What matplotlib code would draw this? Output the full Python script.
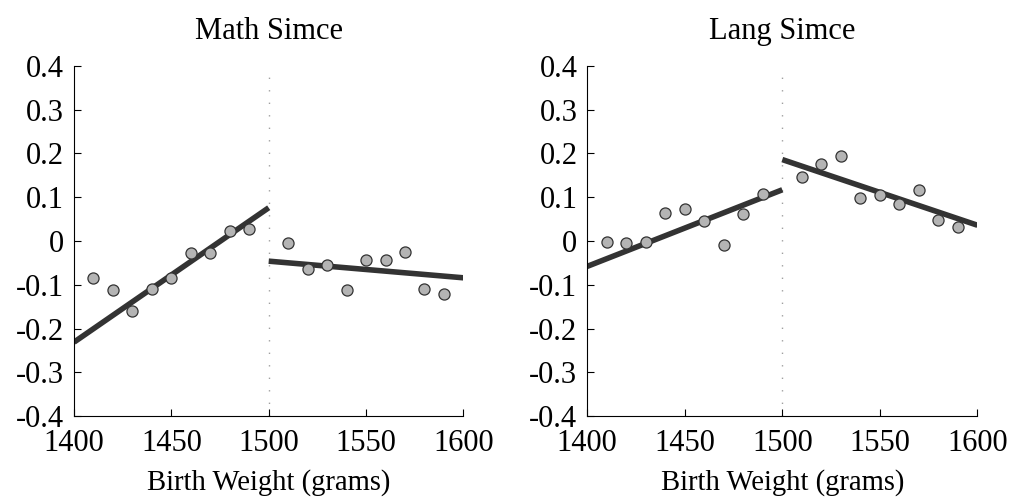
import numpy as np
import matplotlib
matplotlib.use('Agg')
import matplotlib.pyplot as plt

plt.rcParams['font.family'] = 'Liberation Serif'

# binned means, birth weight in grams
bins_lo = [1410, 1420, 1430, 1440, 1450, 1460, 1470, 1480, 1490]
bins_hi = [1510, 1520, 1530, 1540, 1550, 1560, 1570, 1580, 1590]

math_lo = [-0.084, -0.113, -0.160, -0.110, -0.085, -0.027, -0.027, 0.024, 0.027]
math_hi = [-0.005, -0.063, -0.054, -0.111, -0.043, -0.044, -0.026, -0.109, -0.121]
math_fit_lo = [-0.231, 0.076]
math_fit_hi = [-0.046, -0.084]

lang_lo = [-0.002, -0.004, -0.003, 0.063, 0.074, 0.045, -0.010, 0.061, 0.108]
lang_hi = [0.146, 0.176, 0.194, 0.098, 0.105, 0.085, 0.117, 0.048, 0.033]
lang_fit_lo = [-0.058, 0.117]
lang_fit_hi = [0.186, 0.036]

fit_x_lo = [1400, 1500]
fit_x_hi = [1500, 1600]

yticks = [-0.4, -0.3, -0.2, -0.1, 0, 0.1, 0.2, 0.3, 0.4]
ytick_labels = ['-0.4', '-0.3', '-0.2', '-0.1', '0', '0.1', '0.2', '0.3', '0.4']
xticks = [1400, 1450, 1500, 1550, 1600]

fig = plt.figure(figsize=(10.14, 4.99), dpi=100)
ax1 = fig.add_axes([0.073, 0.166, 0.384, 0.702])
ax2 = fig.add_axes([0.579, 0.166, 0.385, 0.702])

panels = [
    (ax1, 'Math Simce', math_lo, math_hi, math_fit_lo, math_fit_hi),
    (ax2, 'Lang Simce', lang_lo, lang_hi, lang_fit_lo, lang_fit_hi),
]

for ax, title, lo, hi, flo, fhi in panels:
    ax.axvline(1500, color='#a0a0a0', linestyle=(0, (1, 8)), linewidth=1, zorder=1)
    ax.plot(fit_x_lo, flo, color='#333333', linewidth=4, solid_capstyle='butt', zorder=2)
    ax.plot(fit_x_hi, fhi, color='#333333', linewidth=4, solid_capstyle='butt', zorder=2)
    ax.plot(bins_lo, lo, 'o', color='#b4b4b4', markeredgecolor='#333333',
            markeredgewidth=0.9, markersize=8, zorder=3)
    ax.plot(bins_hi, hi, 'o', color='#b4b4b4', markeredgecolor='#333333',
            markeredgewidth=0.9, markersize=8, zorder=3)
    ax.set_xlim(1400, 1600)
    ax.set_ylim(-0.4, 0.4)
    ax.set_xticks(xticks)
    ax.set_yticks(yticks)
    ax.set_yticklabels(ytick_labels)
    ax.tick_params(direction='in', length=5, width=0.8, labelsize=22)
    ax.tick_params(axis='y', pad=7)
    ax.tick_params(axis='x', pad=9)
    ax.spines['top'].set_visible(False)
    ax.spines['right'].set_visible(False)
    ax.set_title(title, fontsize=22, pad=19)
    ax.set_xlabel('Birth Weight (grams)', fontsize=20.6, labelpad=8)

fig.savefig('out.png', dpi=100)
